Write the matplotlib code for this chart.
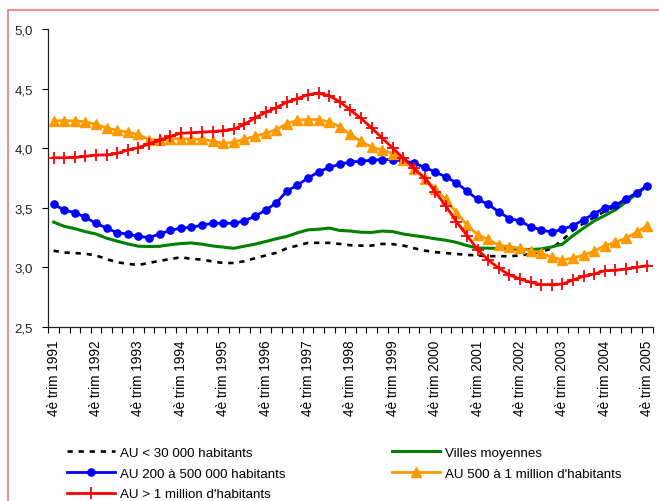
import numpy as np
import matplotlib.pyplot as plt
from matplotlib.patches import Rectangle
from matplotlib.ticker import FuncFormatter

plt.rcParams['font.family'] = ['Liberation Sans', 'DejaVu Sans']

# quarterly series, 4e trim 1991 .. 4e trim 2005 (57 quarters)
years = [1991, 1992, 1993, 1994, 1995, 1996, 1997, 1998,
         1999, 2000, 2001, 2002, 2003, 2004, 2005]
tick_labels = ['4è trim %d' % y for y in years]

au_lt_30k = [3.14, 3.125, 3.12, 3.115, 3.10, 3.07, 3.043, 3.03, 3.02, 3.038,
             3.055, 3.07, 3.085, 3.072, 3.065, 3.05, 3.037, 3.037, 3.052, 3.077,
             3.10, 3.122, 3.16, 3.183, 3.206, 3.206, 3.206, 3.197, 3.186, 3.183,
             3.183, 3.197, 3.195, 3.183, 3.161, 3.141, 3.128, 3.12, 3.113, 3.105,
             3.10, 3.094, 3.094, 3.094, 3.10, 3.113, 3.128, 3.16, 3.23, 3.31,
             3.37, 3.42, 3.47, 3.51, 3.56, 3.62, 3.68]

villes_moyennes = [3.38, 3.345, 3.325, 3.30, 3.28, 3.245, 3.22, 3.197, 3.178, 3.175,
                   3.177, 3.19, 3.20, 3.205, 3.195, 3.18, 3.17, 3.16, 3.178, 3.195,
                   3.217, 3.24, 3.26, 3.29, 3.315, 3.32, 3.33, 3.31, 3.305, 3.295,
                   3.293, 3.305, 3.30, 3.28, 3.267, 3.255, 3.24, 3.228, 3.21, 3.183,
                   3.162, 3.161, 3.16, 3.155, 3.152, 3.15, 3.155, 3.172, 3.195, 3.267,
                   3.33, 3.39, 3.435, 3.483, 3.548, 3.618, 3.687]

au_200_500k = [3.53, 3.48, 3.46, 3.42, 3.37, 3.33, 3.29, 3.28, 3.26, 3.25,
               3.28, 3.31, 3.33, 3.335, 3.355, 3.37, 3.37, 3.37, 3.39, 3.43,
               3.48, 3.54, 3.64, 3.69, 3.75, 3.80, 3.84, 3.865, 3.885, 3.89,
               3.90, 3.905, 3.905, 3.895, 3.875, 3.84, 3.80, 3.76, 3.71, 3.64,
               3.57, 3.53, 3.465, 3.41, 3.39, 3.34, 3.315, 3.295, 3.32, 3.35,
               3.40, 3.45, 3.50, 3.52, 3.575, 3.625, 3.685]

au_500k_1m = [4.23, 4.23, 4.23, 4.22, 4.20, 4.17, 4.15, 4.135, 4.115, 4.07,
              4.07, 4.08, 4.08, 4.075, 4.075, 4.06, 4.04, 4.05, 4.075, 4.10,
              4.125, 4.155, 4.205, 4.235, 4.24, 4.24, 4.22, 4.18, 4.115, 4.057,
              4.01, 3.985, 3.955, 3.905, 3.825, 3.745, 3.66, 3.57, 3.46, 3.355,
              3.275, 3.235, 3.185, 3.175, 3.16, 3.14, 3.12, 3.085, 3.063, 3.077,
              3.105, 3.136, 3.183, 3.21, 3.245, 3.295, 3.35]

au_gt_1m = [3.92, 3.92, 3.922, 3.932, 3.942, 3.944, 3.956, 3.985, 4.005, 4.035,
            4.065, 4.10, 4.125, 4.13, 4.135, 4.14, 4.148, 4.16, 4.20, 4.255,
            4.30, 4.34, 4.385, 4.415, 4.45, 4.46, 4.44, 4.39, 4.32, 4.25,
            4.17, 4.086, 4.0, 3.915, 3.83, 3.75, 3.635, 3.515, 3.385, 3.267,
            3.15, 3.063, 2.993, 2.937, 2.903, 2.875, 2.856, 2.856, 2.86, 2.895,
            2.925, 2.945, 2.973, 2.975, 2.987, 3.0, 3.015]

x = np.arange(len(au_gt_1m))

fig = plt.figure(figsize=(6.59, 5.02), dpi=100)
ax = fig.add_axes([48.3 / 659, (502 - 328) / 502, 604.2 / 659, 298 / 502])

l_black, = ax.plot(x, au_lt_30k, color='black', lw=1.9, dashes=(2.0, 2.2),
                   label='AU < 30 000 habitants', zorder=2)
l_green, = ax.plot(x, villes_moyennes, color='#008000', lw=2.2,
                   label='Villes moyennes', zorder=3)
l_blue, = ax.plot(x, au_200_500k, color='#0000ff', lw=2.0, marker='o', ms=5.2,
                  label='AU 200 à 500 000 habitants', zorder=4)
l_orange, = ax.plot(x, au_500k_1m, color='#ff9900', lw=2.0, marker='^', ms=6.5,
                    label="AU 500 à 1 million d'habitants", zorder=5)
l_red, = ax.plot(x, au_gt_1m, color='#ff0000', lw=2.0, marker='+', ms=8, mew=1.3,
                 label="AU > 1 million d'habitants", zorder=6)

ax.set_xlim(-0.5, len(x) - 0.5)
ax.set_ylim(2.5, 5.0)
ax.set_yticks([2.5, 3.0, 3.5, 4.0, 4.5, 5.0])
ax.yaxis.set_major_formatter(FuncFormatter(lambda v, p: ('%.1f' % v).replace('.', ',')))
ax.set_xticks(x[::4])
ax.set_xticklabels(tick_labels, rotation=90, fontsize=9.8)
ax.set_xticks(np.arange(-0.5, len(x), 1), minor=True)
ax.tick_params(axis='x', which='major', length=0, pad=9)
ax.tick_params(axis='x', which='minor', length=4, direction='out', width=0.8)
ax.tick_params(axis='y', length=4, direction='out', width=0.8, pad=7, labelsize=9.5,
               labelcolor='#222222')
for s in ['top', 'right']:
    ax.spines[s].set_visible(False)
for s in ['left', 'bottom']:
    ax.spines[s].set_linewidth(0.9)
    ax.spines[s].set_color('#222222')

handles = [l_black, l_blue, l_red, l_green, l_orange]
fig.legend(handles, [h.get_label() for h in handles], loc='upper left',
           bbox_to_anchor=(60.5 / 659, (502 - 441) / 502), ncol=2, frameon=False,
           borderpad=0, handlelength=3.6, handletextpad=0.35, columnspacing=8.0,
           labelspacing=0.62, fontsize=9.6)

fig.add_artist(Rectangle((8 / 659, -0.1), 1.2, (502 - 11) / 502 + 0.1,
                         transform=fig.transFigure, fill=False,
                         ec='#f07878', lw=1.2))

fig.savefig('out.png', dpi=100)
